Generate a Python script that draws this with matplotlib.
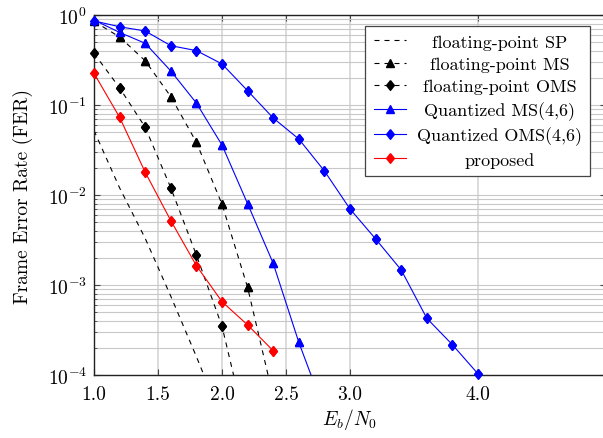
import matplotlib
matplotlib.use('Agg')
import matplotlib.pyplot as plt
import numpy as np

#===============================================================================#
# data                                                   #
#===============================================================================#

fp_sp_x = [1.0, 1.2, 1.4, 1.6, 1.8, 2.0]
fp_sp_fer = [0.052, 0.012, 0.0033, 7.5e-4, 1.6e-4, 3.2e-5]

fp_ms_x = [1.0, 1.2, 1.4, 1.6, 1.8, 2.0, 2.2, 2.4]
fp_ms_fer = [0.85, 0.57, 0.31, 0.124, 0.0385, 0.0079, 9.4e-4, 5.7e-5]

fp_oms_x = [1.0, 1.2, 1.4, 1.6, 1.8, 2.0, 2.2]
fp_oms_fer = [0.375, 0.155, 0.0565, 0.012, 0.00215, 3.48e-4, 2.2e-5]

q_ms_x = [1.0, 1.2, 1.4, 1.6, 1.8, 2.0, 2.2, 2.4, 2.6, 2.8]
q_ms_fer = [0.88, 0.64, 0.485, 0.239, 0.105, 0.0359, 0.008, 0.00174, 2.31e-4, 4e-5]

q_oms_x = [1.0, 1.2, 1.4, 1.6, 1.8, 2.0, 2.2, 2.4, 2.6, 2.8, 3.0, 3.2, 3.4, 3.6, 3.8, 4.0]
q_oms_fer = [0.86, 0.74, 0.664, 0.456, 0.402, 0.286, 0.144, 0.0717, 0.0419, 0.0185,
             0.007, 0.00325, 0.00147, 4.27e-4, 2.17e-4, 1.03e-4]

prop_x = [1.0, 1.2, 1.4, 1.6, 1.8, 2.0, 2.2, 2.4]
prop_fer = [0.225, 0.073, 0.0179, 0.00519, 0.00164, 6.53e-4, 3.6e-4, 1.86e-4]

x_ticks = [1.0, 1.5, 2.0, 2.5, 3.0, 4.0]
x_range = (1.0, 5.0)
y_range = (1e-4, 1e0)

#===============================================================================#
# style                                                                         #
#===============================================================================#

plt.rcParams['font.family'] = 'serif'
plt.rcParams['font.serif'] = ['cmr10', 'DejaVu Serif']
plt.rcParams['mathtext.fontset'] = 'cm'
plt.rcParams['axes.formatter.use_mathtext'] = True
plt.rcParams['axes.unicode_minus'] = False

diamond = [(0, 1), (0.8, 0), (0, -1), (-0.8, 0), (0, 1)]
dash = (0, (4.5, 4.5))

series = [
    (fp_sp_x, fp_sp_fer, 'floating-point SP', 'k', dash, None, 0),
    (fp_ms_x, fp_ms_fer, 'floating-point MS', 'k', dash, '^', 6),
    (fp_oms_x, fp_oms_fer, 'floating-point OMS', 'k', dash, diamond, 7),
    (q_ms_x, q_ms_fer, 'Quantized MS(4,6)', 'b', '-', '^', 6),
    (q_oms_x, q_oms_fer, 'Quantized OMS(4,6)', 'b', '-', diamond, 7),
    (prop_x, prop_fer, 'proposed', 'r', '-', diamond, 7),
]

#===============================================================================#
# plot                                                                          #
#===============================================================================#

fig = plt.figure(figsize=(6.03, 4.39), dpi=100)
ax = fig.add_axes([94 / 603, 63 / 439, 512 / 603, 360 / 439])

for xs, ys, label, color, ls, marker, ms in series:
    ax.plot(xs, ys, color=color, linestyle=ls, linewidth=0.8, marker=marker,
            markersize=ms, label=label)
    # markers inside the range are drawn unclipped, as pgfplots does
    if marker is not None:
        keep = [i for i, v in enumerate(ys) if v >= y_range[0]]
        ax.plot([xs[i] for i in keep], [ys[i] for i in keep], linestyle='none',
                color=color, marker=marker, markersize=ms, clip_on=False, zorder=3)

ax.set_yscale('log')
ax.set_xlim(*x_range)
ax.set_ylim(*y_range)
ax.set_xticks(x_ticks)
ax.set_xticklabels([f"{t:.1f}" for t in x_ticks])
ax.yaxis.set_major_locator(matplotlib.ticker.LogLocator(base=10, numticks=10))
ax.yaxis.set_minor_locator(matplotlib.ticker.LogLocator(base=10, subs=np.arange(2, 10), numticks=10))
ax.yaxis.set_minor_formatter(matplotlib.ticker.NullFormatter())

ax.grid(True, which='major', axis='x', color='#d9d9d9', linewidth=1.3)
ax.grid(True, which='major', axis='y', color='#c8c8c8', linewidth=0.8)
ax.grid(True, which='minor', axis='y', color='#c8c8c8', linewidth=0.8)
ax.set_axisbelow(True)

ax.tick_params(which='both', direction='in', top=True, right=True, labelsize=14,
               color='#444444')
ax.tick_params(which='major', length=4)
ax.tick_params(which='minor', length=2)
ax.tick_params(axis='x', pad=7)
ax.tick_params(axis='y', pad=5)
for sp in ax.spines.values():
    sp.set_color('#222222')
    sp.set_linewidth(1.0)

ax.set_xlabel(r'$E_b/N_0$', fontsize=14)
ax.set_ylabel('Frame Error Rate (FER)', fontsize=14)
ax.xaxis.set_label_coords(0.5, -(407 - 376) / 360)
ax.yaxis.set_label_coords(-(94 - 33) / 512, 0.5)

leg = ax.legend(loc='upper right', bbox_to_anchor=((590 - 94) / 512, (376 - 27) / 360),
                borderaxespad=0, fancybox=False, framealpha=1, edgecolor='#444444',
                fontsize=13, handlelength=1.8, handletextpad=0.6, labelspacing=0.37,
                borderpad=0.45)
leg.get_frame().set_linewidth(0.9)

# center the legend texts the way pgfplots does
renderer = fig.canvas.get_renderer()
texts = leg.get_texts()
widths = [t.get_window_extent(renderer).width for t in texts]
for t, w in zip(texts, widths):
    t.set_position(((max(widths) - w) / 2, 0))

fig.savefig('out.png', dpi=100)
